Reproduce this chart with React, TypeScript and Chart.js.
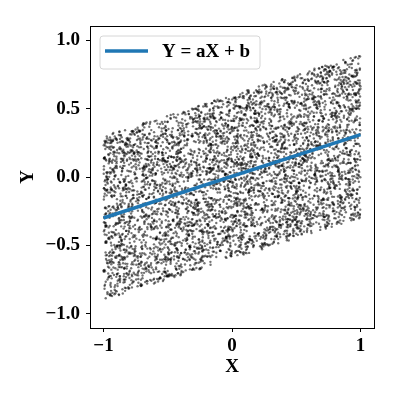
import React, { useEffect, useRef } from "react";
import { Chart, registerables } from "chart.js";

Chart.register(...registerables);

// ---- data ----
// Fitted line Y = aX + b (end points)
const lineX = [-1, 1];
const lineY = [-0.3, 0.31];
const legendLabel = "Y = aX + b";

// Scatter cloud parameters (uniform noise band around the line)
const cloudCount = 5000;
const cloudSlope = 0.3;
const cloudIntercept = 0.0;
const cloudHalfWidth = 0.6;
const cloudXRange = [-1, 1];

// Tick labels
const xTicks = [-1, 0, 1];
const yTicks = [-1.0, -0.5, 0.0, 0.5, 1.0];
const axisMin = -1.105;
const axisMax = 1.105;

// deterministic generator for the noise cloud
function mulberry32(seed: number) {
  return function () {
    let t = (seed += 0x6d2b79f5);
    t = Math.imul(t ^ (t >>> 15), t | 1);
    t ^= t + Math.imul(t ^ (t >>> 7), t | 61);
    return ((t ^ (t >>> 14)) >>> 0) / 4294967296;
  };
}

function buildCloud() {
  const rnd = mulberry32(12345);
  const pts: { x: number; y: number }[] = [];
  for (let i = 0; i < cloudCount; i++) {
    const x = cloudXRange[0] + (cloudXRange[1] - cloudXRange[0]) * rnd();
    const y = cloudSlope * x + cloudIntercept + (rnd() * 2 - 1) * cloudHalfWidth;
    pts.push({ x, y });
  }
  return pts;
}

const FONT = "'Liberation Serif', 'Times New Roman', serif";
const fmt = (v: number, d: number) => {
  const s = Math.abs(v).toFixed(d);
  return v < 0 ? "\u2212" + s : s;
};

const framePlugin = {
  id: "frameAndLegend",
  afterDraw(chart: any) {
    const { ctx, chartArea } = chart;
    const { left, top, right, bottom } = chartArea;
    ctx.save();
    ctx.strokeStyle = "#000";
    ctx.lineWidth = 1;
    ctx.strokeRect(Math.round(left) + 0.5, Math.round(top) + 0.5, Math.round(right - left), Math.round(bottom - top));

    // legend
    const lx = left + 10;
    const ly = top + 10;
    const w = 160;
    const h = 33;
    const r = 3;
    ctx.beginPath();
    ctx.moveTo(lx + r, ly);
    ctx.lineTo(lx + w - r, ly);
    ctx.quadraticCurveTo(lx + w, ly, lx + w, ly + r);
    ctx.lineTo(lx + w, ly + h - r);
    ctx.quadraticCurveTo(lx + w, ly + h, lx + w - r, ly + h);
    ctx.lineTo(lx + r, ly + h);
    ctx.quadraticCurveTo(lx, ly + h, lx, ly + h - r);
    ctx.lineTo(lx, ly + r);
    ctx.quadraticCurveTo(lx, ly, lx + r, ly);
    ctx.closePath();
    ctx.fillStyle = "rgba(255,255,255,0.8)";
    ctx.fill();
    ctx.strokeStyle = "#d6d6d6";
    ctx.lineWidth = 1;
    ctx.stroke();

    ctx.beginPath();
    ctx.strokeStyle = "#1f77b4";
    ctx.lineWidth = 3.5;
    ctx.moveTo(lx + 5, ly + 15);
    ctx.lineTo(lx + 48, ly + 15);
    ctx.stroke();

    ctx.fillStyle = "#000";
    ctx.font = `bold 19px ${FONT}`;
    ctx.textBaseline = "middle";
    ctx.textAlign = "left";
    ctx.fillText(chart.data.datasets[0].label, lx + 62, ly + 16);
    ctx.restore();
  },
};

export default function App() {
  const ref = useRef<HTMLCanvasElement>(null);
  useEffect(() => {
    if (!ref.current) return;
    const cloud = buildCloud();
    const chart = new Chart(ref.current, {
      type: "scatter",
      data: {
        datasets: [
          {
            label: legendLabel,
            type: "line",
            data: lineX.map((x, i) => ({ x, y: lineY[i] })),
            borderColor: "#1f77b4",
            borderWidth: 3.5,
            pointRadius: 0,
            fill: false,
            order: 0,
          } as any,
          {
            label: "data",
            data: cloud,
            pointRadius: 1.2,
            pointBorderWidth: 0,
            pointBackgroundColor: "rgba(0,0,0,0.55)",
            backgroundColor: "rgba(0,0,0,0.55)",
            borderColor: "rgba(0,0,0,0)",
            order: 1,
          },
        ],
      },
      options: {
        responsive: false,
        animation: false,
        events: [],
        layout: { padding: { top: 26, right: 26, left: 0, bottom: 0 } },
        plugins: {
          legend: { display: false },
          tooltip: { enabled: false },
        },
        scales: {
          x: {
            type: "linear",
            min: axisMin,
            max: axisMax,
            afterBuildTicks: (s: any) => {
              s.ticks = xTicks.map((v) => ({ value: v }));
            },
            afterFit: (s: any) => {
              s.height = 72;
            },
            ticks: {
              color: "#000",
              padding: 3,
              maxRotation: 0,
              font: { family: FONT, size: 19, weight: "bold" },
              callback: (v: any) => fmt(Number(v), 0),
            },
            grid: {
              display: true,
              drawOnChartArea: false,
              drawTicks: true,
              tickLength: 4,
              tickColor: "#000",
              tickWidth: 1,
            },
            border: { display: true, color: "#000", width: 1 },
            title: {
              display: true,
              text: "X",
              color: "#000",
              font: { family: FONT, size: 19, weight: "bold" },
              padding: { top: 0, bottom: 22 },
            },
          },
          y: {
            type: "linear",
            min: axisMin,
            max: axisMax,
            afterBuildTicks: (s: any) => {
              s.ticks = yTicks.map((v) => ({ value: v }));
            },
            afterFit: (s: any) => {
              s.width = 90;
            },
            ticks: {
              color: "#000",
              padding: 6,
              font: { family: FONT, size: 19, weight: "bold" },
              callback: (v: any) => fmt(Number(v), 1),
            },
            grid: {
              display: true,
              drawOnChartArea: false,
              drawTicks: true,
              tickLength: 4,
              tickColor: "#000",
              tickWidth: 1,
            },
            border: { display: true, color: "#000", width: 1 },
            title: {
              display: true,
              text: "Y",
              color: "#000",
              font: { family: FONT, size: 19, weight: "bold" },
              padding: { top: 16.6, bottom: 0 },
            },
          },
        },
      },
      plugins: [framePlugin],
    });
    return () => chart.destroy();
  }, []);
  return (
    <div style={{ position: "fixed", left: 0, top: 0, width: 400, height: 400, background: "#fff" }}>
      <canvas ref={ref} width={400} height={400} style={{ width: 400, height: 400 }} />
    </div>
  );
}
